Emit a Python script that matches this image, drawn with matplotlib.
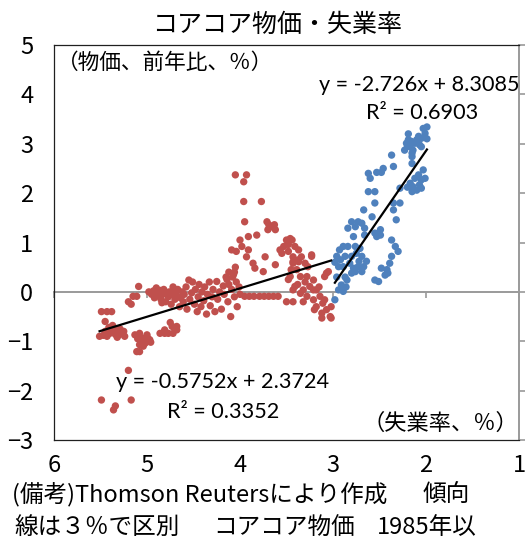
import matplotlib
matplotlib.use('Agg')
import matplotlib.pyplot as plt
import numpy as np

plt.rcParams['font.family'] = ['Noto Sans CJK JP', 'DejaVu Sans']

# ---------------- text ----------------
title = 'コアコア物価・失業率'
y_unit = '（物価、前年比、％）'
x_unit = '（失業率、％）'
note_line1 = ['(備考)Thomson Reutersにより作成', '傾向']
note_line2 = ['線は３％で区別', 'コアコア物価', '1985年以']

x_ticks = [6, 5, 4, 3, 2, 1]
y_ticks = [5, 4, 3, 2, 1, 0, -1, -2, -3]

# ---------------- data: unemployment >= 3% (red) ----------------
red_x = [5.49, 5.43, 5.38, 5.45, 5.51, 5.47, 5.43, 5.40, 5.36, 5.33, 5.30, 5.27, 5.24, 5.41, 5.37, 5.34, 5.29, 5.45, 5.25, 5.32,
         5.20, 5.15, 5.11, 5.09, 5.17,
         5.13, 5.08, 5.04, 5.00, 4.97, 5.06, 5.08, 5.11, 5.08, 5.02, 4.99, 5.04, 5.10, 4.96,
         4.86, 4.81, 4.77, 4.73, 4.68, 4.68, 4.72, 4.81, 4.75,
         5.20, 5.49, 5.34, 5.36, 5.17,
         4.98, 4.95, 4.93, 4.92, 4.90, 4.88, 4.86, 4.85, 4.83, 4.82, 4.80, 4.79, 4.77, 4.76, 4.74, 4.73, 4.71, 4.70, 4.68, 4.67,
         4.65, 4.64, 4.62, 4.61, 4.60, 4.58, 4.57, 4.55, 4.54, 4.52, 4.51, 4.49, 4.48, 4.46, 4.45, 4.44, 4.42, 4.41, 4.39, 4.38,
         4.36, 4.35, 4.33, 4.32, 4.30, 4.29, 4.27, 4.25, 4.24, 4.22, 4.20, 4.18, 4.17, 4.15, 4.13, 4.12, 4.10, 4.09, 4.07, 4.06,
         4.04, 4.03, 4.01, 4.00, 4.12, 4.14, 4.05, 4.90, 4.72, 4.84,
         4.05, 3.93, 3.96, 3.96, 3.77, 3.95, 3.71, 3.69, 3.66, 3.62, 3.70, 3.63, 3.91, 3.82, 4.00, 3.98, 3.91, 3.93, 4.04, 4.09,
         3.73, 3.86, 3.84, 3.62, 3.75, 3.53, 3.57, 3.50, 3.46, 3.48, 3.55, 3.48, 3.43, 3.37, 3.43, 3.37, 3.23, 4.06, 4.08, 3.07,
         3.95, 3.90, 3.85, 3.79, 3.74, 3.69, 3.64, 3.59,
         3.44, 3.41, 3.37, 3.34, 3.30, 3.27, 3.23, 3.43, 3.39, 3.46, 3.35, 3.28, 3.21, 3.41, 3.32, 3.25, 3.18, 3.35, 3.28, 3.21,
         3.14, 3.11, 3.18, 3.07, 3.12, 3.03, 3.02, 3.09, 3.21, 3.43, 3.32, 3.20, 3.09, 3.05, 3.50, 3.43, 3.38, 3.30, 3.15, 3.12,
         3.02, 3.45, 3.48]
red_y = [-0.40, -0.40, -0.40, -0.60, -0.90, -0.88, -0.90, -0.84, -0.80, -0.77, -0.87, -0.84, -0.90, -0.72, -0.68, -0.86, -0.75, -0.80, -0.80, -0.92,
         -0.20, -0.09, -0.09, 0.11, -0.25,
         -0.87, -0.84, -0.94, -0.87, -0.97, -1.00, -1.07, -1.21, -1.21, -1.04, -0.94, -1.10, -0.95, -1.02,
         -0.84, -0.77, -0.84, -0.70, -0.77, -0.70, -0.84, -0.84, -0.62,
         -1.59, -2.19, -2.31, -2.39, -2.19,
         0.00, -0.05, 0.02, -0.12, 0.00, -0.08, 0.03, -0.15, -0.05, 0.05, -0.20, -0.02, -0.10, 0.00, -0.25, -0.05, 0.02, -0.15, -0.08, 0.05,
         -0.30, -0.12, 0.00, -0.20, -0.05, 0.10, -0.35, 0.24, -0.15, -0.02, 0.20, -0.25, 0.05, -0.40, -0.10, 0.15, -0.30, 0.00, -0.18, 0.10,
         -0.45, -0.05, 0.20, -0.28, -0.10, 0.05, -0.40, 0.21, -0.15, 0.00, -0.35, 0.12, -0.05, 0.30, -0.20, 0.15, -0.50, 0.05, 0.35, -0.10,
         0.20, -0.30, 0.10, -0.05, 0.40, 0.25, 0.50, 0.08, 0.10, -0.22,
         2.37, 2.37, 2.23, 1.83, 1.83, 1.42, 1.42, 1.36, 1.32, 1.26, 1.26, 1.36, 1.12, 1.15, 1.05, 0.92, 0.85, 0.71, 0.82, 0.85,
         0.71, 0.58, 0.48, 0.55, 0.41, 0.92, 0.85, 1.05, 1.08, 0.96, 0.78, 0.82, 0.71, 0.61, 0.61, 0.65, 0.72, 0.40, 0.30, 0.38,
         -0.09, -0.09, -0.09, -0.09, -0.09, -0.09, -0.09, -0.09,
         1.05, 0.92, 0.85, 0.71, 0.58, 0.51, 0.75, 0.58, 0.45, 0.31, 0.31, 0.31, 0.24, 0.11, 0.04, 0.11, 0.04, -0.03, -0.09, -0.16,
         -0.09, -0.23, -0.30, -0.36, -0.43, -0.50, -0.30, -0.16, 0.04, 0.04, -0.20, -0.36, 0.31, 0.41, -0.20, -0.20, 0.15, 0.20, 0.10, -0.53,
         -0.53, 0.45, 0.25]

# ---------------- data: unemployment < 3% (blue) ----------------
blue_x = [2.19, 2.03, 2.01, 2.05, 2.07, 2.21, 2.17, 2.14, 2.23, 2.15, 2.10, 2.19, 2.12, 2.05, 2.15, 2.20, 2.08, 2.16, 1.99, 1.99,
          2.37, 2.35, 2.15, 2.03, 2.08, 2.05, 2.17, 2.14, 2.10, 2.07, 2.15, 2.12, 2.01, 2.20, 2.05,
          2.62, 2.60, 2.53, 2.48, 2.46, 2.28, 2.62, 2.55, 2.55, 2.35, 2.28, 2.35, 2.32, 2.67, 2.58,
          2.80, 2.73, 2.69, 2.84, 2.76, 2.66, 2.78, 2.66, 2.55, 2.49, 2.53, 2.49, 2.37, 2.33, 2.30,
          2.89, 2.84, 2.76, 2.71, 2.96, 2.92, 2.87, 2.80, 2.75, 2.69, 2.94, 2.89, 2.82, 2.78, 2.73, 2.67, 2.80, 2.76, 2.69, 2.37,
          2.39, 2.48, 2.42, 2.44, 2.41, 2.55, 2.51, 2.85, 2.91, 2.94, 2.89, 2.98, 2.96, 2.87, 2.93, 2.64, 2.72, 2.98, 2.86]
blue_y = [3.20, 3.31, 3.21, 3.11, 2.98, 3.01, 2.94, 2.87, 2.87, 2.81, 3.08, 3.08, 3.01, 2.94, 2.74, 2.95, 3.15, 3.05, 3.34, 3.10,
          2.77, 2.54, 2.60, 2.47, 2.37, 2.27, 2.20, 2.13, 2.06, 2.17, 2.03, 2.30, 2.30, 2.12, 2.10,
          2.40, 2.30, 2.42, 2.42, 2.50, 2.10, 2.03, 2.03, 1.80, 1.80, 1.80, 1.66, 1.46, 1.66, 1.52,
          1.42, 1.42, 1.39, 1.29, 1.32, 1.29, 1.12, 1.15, 1.19, 1.26, 1.12, 1.15, 1.05, 0.92, 0.82,
          0.92, 0.92, 0.92, 0.88, 0.72, 0.65, 0.72, 0.72, 0.78, 0.72, 0.51, 0.51, 0.58, 0.48, 0.51, 0.51, 0.38, 0.41, 0.41, 0.72,
          0.58, 0.48, 0.45, 0.34, 0.38, 0.24, 0.21, 0.24, 0.14, 0.04, 0.01, -0.16, 0.30, 0.30, 0.85, 0.62, 0.62, 0.60, 0.10]

# trend lines (slope, intercept, R^2) as shown on the chart
red_fit = [-0.5752, 2.3724, 0.3352]
blue_fit = [-2.726, 8.3085, 0.6903]

# ---------------- plot ----------------
W, H = 526, 546
fig = plt.figure(figsize=(W / 100, H / 100), dpi=100)
ax = fig.add_axes([54 / W, 1 - 440 / H, (519 - 54) / W, (440 - 45) / H])

red_c = '#C0504D'
blue_c = '#4F81BD'
ax.scatter(red_x, red_y, s=28, color=red_c, edgecolors='none', zorder=3)
ax.scatter(blue_x, blue_y, s=28, color=blue_c, edgecolors='none', zorder=3)

for xs, fit in ((red_x, red_fit), (blue_x, blue_fit)):
    xx = np.array([min(xs), max(xs)])
    ax.plot(xx, fit[0] * xx + fit[1], color='black', lw=1.6, zorder=4)

ax.set_xlim(6, 1)
ax.set_ylim(-3, 5)
ax.set_xticks(x_ticks)
ax.set_yticks(y_ticks)
ax.set_xticklabels([str(v) for v in x_ticks])
ax.set_yticklabels([str(v).replace('-', '\u2212') for v in y_ticks])

for s in ('left', 'top', 'bottom'):
    ax.spines[s].set_color('#202020')
    ax.spines[s].set_linewidth(0.9)
ax.spines['right'].set_color('#9A9A9A')
ax.spines['right'].set_linewidth(1.4)

ax.tick_params(axis='y', left=False, right=True, labelleft=True, labelright=False,
               direction='out', length=4, width=1.2, color='#9A9A9A', pad=11, labelsize=17)
ax.tick_params(axis='x', bottom=False, top=False, length=0, pad=10, labelsize=17)

# horizontal axis drawn at y = 0
ymin, ymax = ax.get_ylim()
sec = ax.secondary_xaxis((0 - ymin) / (ymax - ymin))
sec.set_xticks(x_ticks)
sec.tick_params(axis='x', direction='out', length=4, width=1.2, color='#9A9A9A', labelbottom=False)
for s in sec.spines.values():
    s.set_visible(False)
sec.spines['bottom'].set_visible(True)
sec.spines['bottom'].set_color('#9A9A9A')
sec.spines['bottom'].set_linewidth(1.4)

# annotations
eq_font = ['Lato', 'DejaVu Sans']
eq_size = 15.6
ax.text(2.075, 4.19, f'y = {blue_fit[0]}x + {blue_fit[1]}', ha='center', va='center', fontsize=eq_size, family=eq_font)
ax.text(2.045, 3.62, f'R² = {blue_fit[2]:.4f}', ha='center', va='center', fontsize=eq_size, family=eq_font)
ax.text(4.19, -1.82, f'y = {red_fit[0]}x + {red_fit[1]}', ha='center', va='center', fontsize=eq_size, family=eq_font)
ax.text(4.18, -2.43, f'R² = {red_fit[2]:.4f}', ha='center', va='center', fontsize=eq_size, family=eq_font)

ax.text(5.97, 4.64, y_unit, ha='left', va='center', fontsize=15.6)
ax.text(1.01, -2.67, x_unit, ha='right', va='center', fontsize=16)

fig.text(0.527, 1 - 25 / H, title, ha='center', va='center', fontsize=18)

note_size = 17
y1 = 1 - 495 / H
y2 = 1 - 527 / H
fig.text(12 / W, y1, note_line1[0], ha='left', va='center', fontsize=note_size)
fig.text(423 / W, y1, note_line1[1], ha='left', va='center', fontsize=note_size)
fig.text(14 / W, y2, note_line2[0], ha='left', va='center', fontsize=note_size)
fig.text(213 / W, y2, note_line2[1], ha='left', va='center', fontsize=note_size)
fig.text(377 / W, y2, note_line2[2], ha='left', va='center', fontsize=note_size)

fig.savefig('out.png', dpi=100)
